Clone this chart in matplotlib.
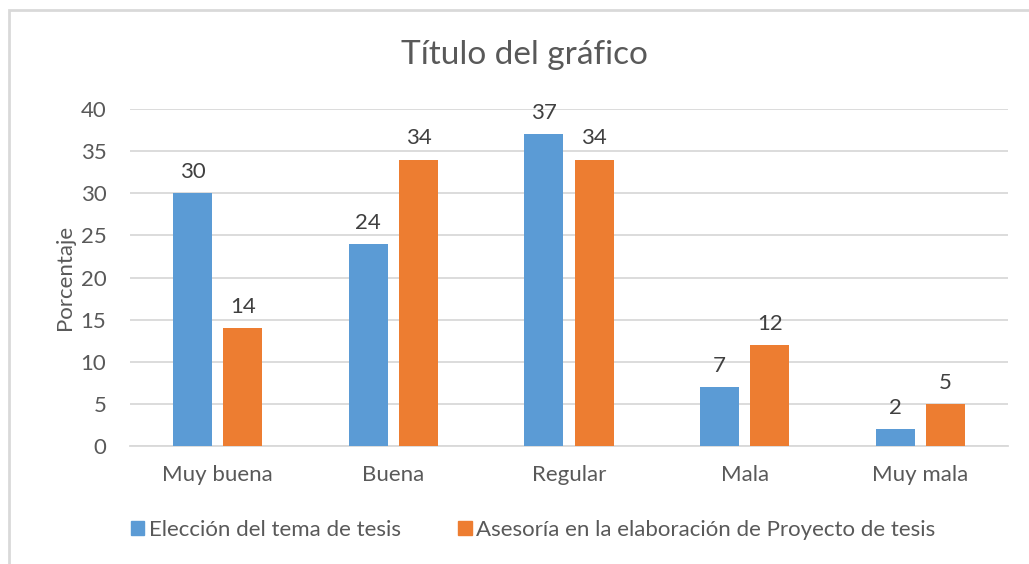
import matplotlib
matplotlib.use("Agg")
from matplotlib import pyplot as plt
from matplotlib.patches import Rectangle, Patch
import numpy as np

categories = ["Muy buena", "Buena", "Regular", "Mala", "Muy mala"]
eleccion = [30, 24, 37, 7, 2]
asesoria = [14, 34, 34, 12, 5]
series_labels = ["Elección del tema de tesis",
                 "Asesoría en la elaboración de Proyecto de tesis"]
yticks = [0, 5, 10, 15, 20, 25, 30, 35, 40]

BLUE = "#5B9BD5"
ORANGE = "#ED7D31"
TEXT = "#595959"
GRID = "#D9D9D9"

plt.rcParams["font.family"] = ["Lato", "DejaVu Sans"]

fig = plt.figure(figsize=(10.29, 5.64), dpi=100)
ax = fig.add_axes([0.1263, 0.2092, 0.8533, 0.5975])

# Outer chart border (Excel style), running off the right/bottom edge
fig.patches.append(Rectangle((9 / 1029, -0.05), 1.1, 1 - 10 / 564 + 0.05,
                             transform=fig.transFigure, fill=False,
                             edgecolor=GRID, lw=2))

x = np.arange(len(categories))
w = 0.222
off = 0.143
b1 = ax.bar(x - off, eleccion, w, color=BLUE, zorder=3)
b2 = ax.bar(x + off, asesoria, w, color=ORANGE, zorder=3)

for bars, vals in ((b1, eleccion), (b2, asesoria)):
    for r, v in zip(bars, vals):
        ax.annotate(str(v), (r.get_x() + r.get_width() / 2, v),
                    xytext=(0, 8), textcoords="offset points",
                    ha="center", va="bottom", fontsize=16, color="#404040")

ax.set_xlim(-0.5, len(categories) - 0.5)
ax.set_ylim(0, 40)
ax.set_yticks(yticks)
ax.set_xticks(x)
ax.set_xticklabels(categories)
ax.tick_params(axis="both", length=0, labelsize=16, colors=TEXT)
ax.tick_params(axis="y", pad=17)
ax.tick_params(axis="x", pad=14)
ax.yaxis.grid(True, color=GRID, lw=1.3, zorder=0)
for s in ("top", "right", "left"):
    ax.spines[s].set_visible(False)
ax.spines["bottom"].set_color(GRID)
ax.spines["bottom"].set_linewidth(1.3)

ax.set_ylabel("Porcentaje", fontsize=16, color=TEXT, labelpad=4)
fig.text(0.51, 0.902, "Título del gráfico", ha="center", va="center",
         fontsize=24, color=TEXT)

handles = [Patch(color=BLUE), Patch(color=ORANGE)]
fig.legend(handles, series_labels, loc="center", bbox_to_anchor=(0.518, 0.06),
           ncol=2, frameon=False, fontsize=16, labelcolor=TEXT,
           handlelength=0.6, handleheight=0.6, handletextpad=0.2,
           columnspacing=2.6)

plt.savefig("out.png", dpi=100)
